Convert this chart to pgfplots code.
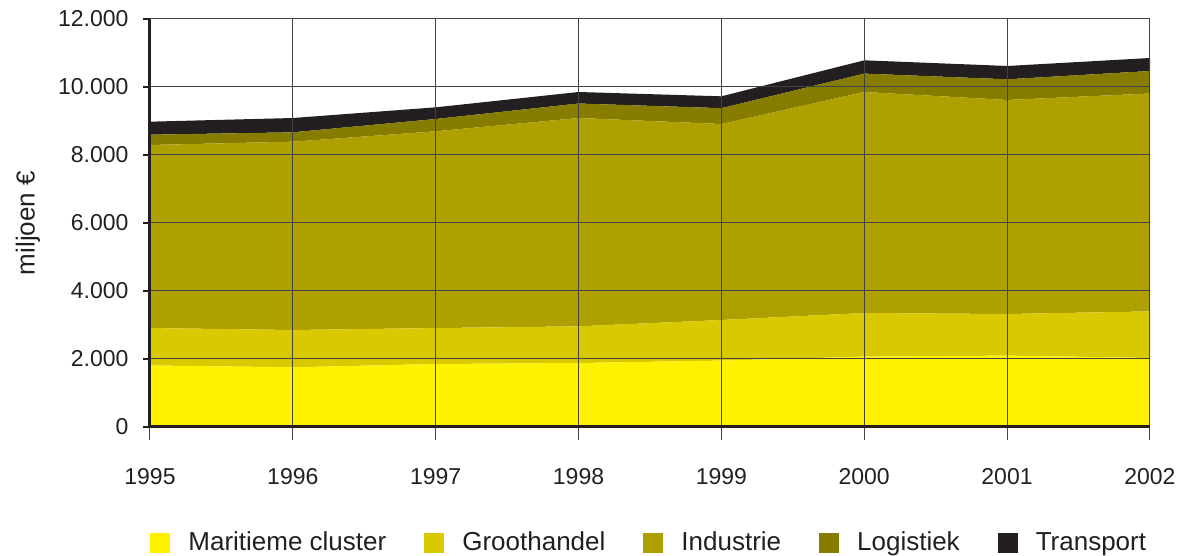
\documentclass[border=0pt]{standalone}
\usepackage{fontspec}
\setmainfont{Liberation Sans}
\usepackage{pgfplots}
\pgfplotsset{compat=1.18}

\definecolor{maritiem}{HTML}{FFF200}
\definecolor{groot}{HTML}{D9C900}
\definecolor{indus}{HTML}{ADA000}
\definecolor{logis}{HTML}{857C00}
\definecolor{transp}{HTML}{231F20}

\begin{document}
\begin{tikzpicture}
\begin{axis}[
  name=ax,
  scale only axis, width=500pt, height=204pt,
  xmin=1995, xmax=2002, ymin=0, ymax=12000,
  xtick={1995,...,2002}, ytick={0,2000,...,12000},
  scaled y ticks=false,
  /pgf/number format/assume math mode=true,
  x tick label style={/pgf/number format/1000 sep={}, yshift=-13pt},
  y tick label style={/pgf/number format/.cd, fixed, 1000 sep={.}, /tikz/xshift=-3pt},
  tick label style={font=\fontsize{11.5}{13}\selectfont, text=transp},
  axis x line=bottom, axis y line=left,
  axis line style={-, line width=1.5pt, transp},
  tick align=outside,
  xtick style={line width=0.5pt, color=transp!85, /pgfplots/major tick length=6.5pt},
  ytick style={line width=1pt, color=transp, /pgfplots/major tick length=3.5pt},
  grid=major,
  major grid style={line width=0.5pt, color=transp!85},
  axis on top,
  stack plots=y,
  ylabel={miljoen €},
  every axis y label/.style={at={(axis description cs:-0.122,0.5)}, rotate=90, anchor=center, font=\fontsize{13}{15}\selectfont, text=transp},
  legend columns=5,
  legend image code/.code={\fill[#1] (0pt,-5pt) rectangle (10pt,5pt);},
  legend style={draw=none, fill=none, inner sep=0pt, at={(axis description cs:0,0)}, anchor=west, yshift=-58pt,
    font=\fontsize{13}{15}\selectfont, text=transp,
    /tikz/every odd column/.append style={column sep=7pt},
    /tikz/every even column/.append style={column sep=17pt}},
]
\addplot[fill=maritiem, draw=none] coordinates {
  (1995,1810) (1996,1756) (1997,1853) (1998,1882)
  (1999,1953) (2000,2070) (2001,2100) (2002,2030)
} \closedcycle;
\addplot[fill=groot, draw=none] coordinates {
  (1995,1100) (1996,1097) (1997,1057) (1998,1078)
  (1999,1194) (2000,1283) (2001,1223) (2002,1370)
} \closedcycle;
\addplot[fill=indus, draw=none] coordinates {
  (1995,5384) (1996,5539) (1997,5787) (1998,6128)
  (1999,5764) (2000,6500) (2001,6295) (2002,6409)
} \closedcycle;
\addplot[fill=logis, draw=none] coordinates {
  (1995,303) (1996,275) (1997,361) (1998,426)
  (1999,466) (2000,541) (2001,608) (2002,661)
} \closedcycle;
\addplot[fill=transp, draw=none] coordinates {
  (1995,383) (1996,421) (1997,344) (1998,339)
  (1999,349) (2000,391) (2001,392) (2002,383)
} \closedcycle;
\legend{Maritieme cluster, Groothandel, Industrie, Logistiek, Transport}
\end{axis}
\pgfresetboundingbox
\path[use as bounding box] (ax.south west) ++(-75pt,-64.5pt) rectangle ++(589pt,278pt);
\end{tikzpicture}
\end{document}
